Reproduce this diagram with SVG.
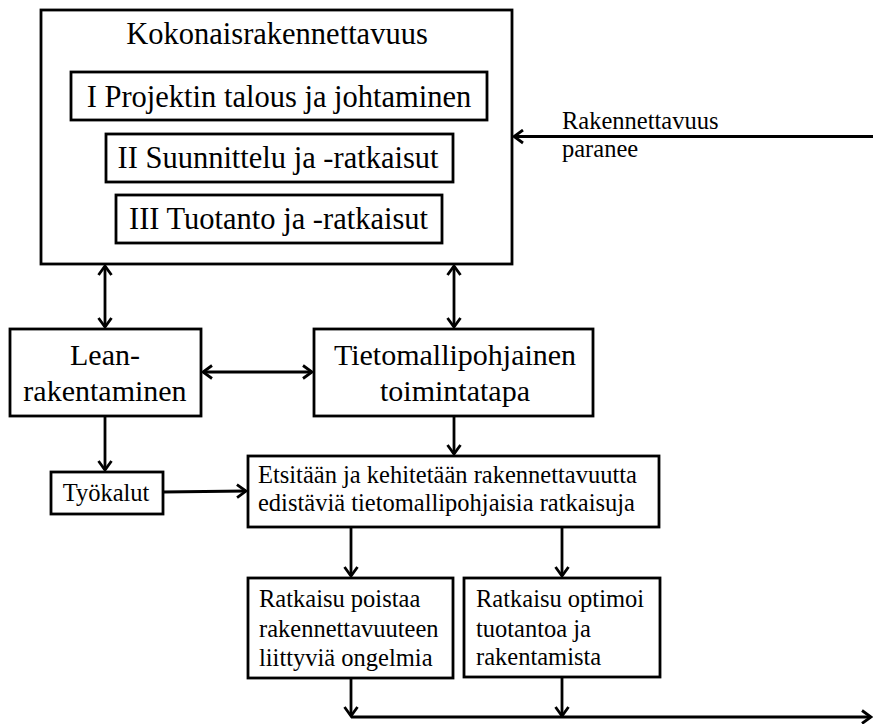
<svg xmlns="http://www.w3.org/2000/svg" width="873" height="724" viewBox="0 0 873 724">
<defs>
<style>
.box{fill:#fff;stroke:#000;stroke-width:2.8}
.ln{fill:none;stroke:#000;stroke-width:2.8}
text{font-family:'Liberation Serif','DejaVu Serif',serif;fill:#000}
.big{font-size:30.5px}
.mid{font-size:30px}
.sm{font-size:24.5px}
.c{text-anchor:middle}
</style>
<marker id="ah" markerUnits="userSpaceOnUse" viewBox="-12 -8 14 16" refX="0" refY="0" markerWidth="14" markerHeight="16" orient="auto-start-reverse">
<path d="M-9,-6.5 L0,0 L-9,6.5" fill="none" stroke="#000" stroke-width="2.8" stroke-linejoin="miter"/>
</marker>
</defs>
<rect width="873" height="724" fill="#fff"/>
<g id="connectors">
<line class="ln" x1="105" y1="266" x2="105" y2="327" marker-start="url(#ah)" marker-end="url(#ah)"/>
<line class="ln" x1="454" y1="266" x2="454" y2="327" marker-start="url(#ah)" marker-end="url(#ah)"/>
<line class="ln" x1="203" y1="372" x2="312" y2="372" marker-start="url(#ah)" marker-end="url(#ah)"/>
<line class="ln" x1="873" y1="136.5" x2="514" y2="136.5" marker-end="url(#ah)"/>
<line class="ln" x1="105" y1="416" x2="105" y2="470" marker-end="url(#ah)"/>
<line class="ln" x1="454" y1="416" x2="454" y2="454" marker-end="url(#ah)"/>
<line class="ln" x1="163" y1="492" x2="246" y2="491" marker-end="url(#ah)"/>
<line class="ln" x1="351" y1="527" x2="351" y2="576" marker-end="url(#ah)"/>
<line class="ln" x1="562" y1="527" x2="562" y2="576" marker-end="url(#ah)"/>
<line class="ln" x1="351" y1="678" x2="351" y2="716" marker-end="url(#ah)"/>
<line class="ln" x1="562" y1="678" x2="562" y2="716" marker-end="url(#ah)"/>
<line class="ln" x1="351" y1="717" x2="871" y2="717" marker-end="url(#ah)"/>
</g>
<g id="label-rakennettavuus">
<text class="sm" x="562" y="129">Rakennettavuus</text>
<text class="sm" x="562" y="157">paranee</text>
</g>
<g id="kokonais">
<rect class="box" x="41" y="10" width="471" height="254"/>
<text class="big c" x="277" y="44">Kokonaisrakennettavuus</text>
</g>
<g id="box-I">
<rect class="box" x="71" y="72" width="416" height="48"/>
<text class="big c" x="279" y="107">I Projektin talous ja johtaminen</text>
</g>
<g id="box-II">
<rect class="box" x="106" y="134" width="347" height="48"/>
<text class="big c" x="278" y="168">II Suunnittelu ja -ratkaisut</text>
</g>
<g id="box-III">
<rect class="box" x="116" y="195" width="326" height="48"/>
<text class="big c" x="278.5" y="229">III Tuotanto ja -ratkaisut</text>
</g>
<g id="lean">
<rect class="box" x="10" y="329" width="191" height="87"/>
<text class="mid c" x="105" y="365">Lean-</text>
<text class="mid c" x="105" y="401">rakentaminen</text>
</g>
<g id="tieto">
<rect class="box" x="314" y="329" width="279" height="87"/>
<text class="mid c" x="455" y="365">Tietomallipohjainen</text>
<text class="mid c" x="455" y="401">toimintatapa</text>
</g>
<g id="tyokalut">
<rect class="box" x="51" y="472" width="112" height="42"/>
<text class="sm c" x="106" y="501">Työkalut</text>
</g>
<g id="etsitaan">
<rect class="box" x="248" y="456" width="411" height="71"/>
<text class="sm" x="258" y="483">Etsitään ja kehitetään rakennettavuutta</text>
<text class="sm" x="258" y="510.5">edistäviä tietomallipohjaisia ratkaisuja</text>
</g>
<g id="ratkaisu-1">
<rect class="box" x="248" y="578" width="205" height="100"/>
<text class="sm" x="259" y="607">Ratkaisu poistaa</text>
<text class="sm" x="259" y="636.5">rakennettavuuteen</text>
<text class="sm" x="259" y="666">liittyviä ongelmia</text>
</g>
<g id="ratkaisu-2">
<rect class="box" x="464" y="578" width="196" height="99"/>
<text class="sm" x="476" y="607">Ratkaisu optimoi</text>
<text class="sm" x="476" y="636.5">tuotantoa ja</text>
<text class="sm" x="476" y="665">rakentamista</text>
</g>
</svg>
